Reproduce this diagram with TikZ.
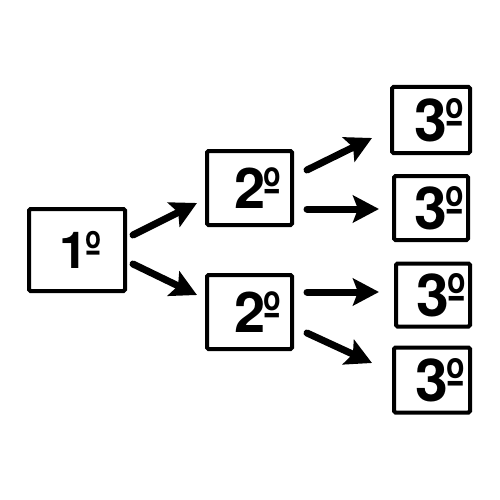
\documentclass[tikz,border=0pt]{standalone}
\usepackage{fontspec}
\setmainfont{TeX Gyre Heros}
\usetikzlibrary{arrows.meta,calc}
\newcommand{\ordnum}[1]{#1\kern-2.5pt\scalebox{0.85}[1]{º}}
\tikzset{
	box/.style={draw=black, line width=4pt, rounded corners=1.5pt, fill=white, inner sep=0pt, font=\bfseries},
	arr/.style={line width=7pt, line cap=round, -{Stealth[length=26pt,width=27pt,inset=5pt]}}
}
\begin{document}
\begin{tikzpicture}[x=1pt,y=-1pt]
	\useasboundingbox (0,0) rectangle (500,500);
	\node (B1)  at ( 77, 250)	[box, minimum width=96pt, minimum height=82pt, font=\bfseries\fontsize{51}{56}\selectfont]	{\hspace*{7pt}\ordnum{1}};
	\node (B2a) at (249.5, 188)	[box, minimum width=85pt, minimum height=74pt, font=\bfseries\fontsize{56}{60}\selectfont]	{\hspace*{16pt}\ordnum{2}};
	\node (B2b) at (249.5, 312)	[box, minimum width=85pt, minimum height=74pt, font=\bfseries\fontsize{56}{60}\selectfont]	{\hspace*{16pt}\ordnum{2}};
	\node (B3a) at (431, 120)	[box, minimum width=78pt, minimum height=66pt, font=\bfseries\fontsize{59}{62}\selectfont]	{\hspace*{16pt}\ordnum{3}};
	\node (B3b) at (431, 208)	[box, minimum width=74pt, minimum height=64pt, font=\bfseries\fontsize{59}{62}\selectfont]	{\hspace*{16pt}\ordnum{3}};
	\node (B3c) at (433, 295)	[box, minimum width=74pt, minimum height=63pt, font=\bfseries\fontsize{59}{62}\selectfont]	{\hspace*{16pt}\ordnum{3}};
	\node (B3d) at (432, 380)	[box, minimum width=76pt, minimum height=65pt, font=\bfseries\fontsize{59}{62}\selectfont]	{\hspace*{16pt}\ordnum{3}};
	\draw[arr] ($(B1.east)+(6,-15)$) -- ($(B2a.west)+(-8,15)$);
	\draw[arr] ($(B1.east)+(6,14)$) -- ($(B2b.west)+(-8,-17)$);
	\draw[arr] ($(B2a.east)+(13,-18)$) -- ($(B3a.west)+(-18,18)$);
	\draw[arr] ($(B2a.east)+(13,21)$) -- ($(B3b.west)+(-13,1)$);
	\draw[arr] ($(B2b.east)+(13,-20)$) -- ($(B3c.west)+(-15,-3)$);
	\draw[arr] ($(B2b.east)+(13,21)$) -- ($(B3d.west)+(-20,-17)$);
\end{tikzpicture}
\end{document}
